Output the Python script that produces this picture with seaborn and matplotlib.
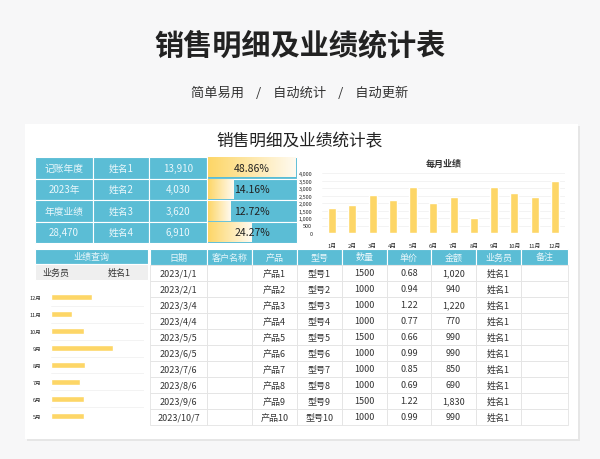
import numpy as np
import pandas as pd
import matplotlib
matplotlib.use("Agg")
import matplotlib.pyplot as plt
import matplotlib.patches as mp
from matplotlib.colors import LinearSegmentedColormap
import seaborn as sns

months = ["1月", "2月", "3月", "4月", "5月", "6月", "7月", "8月", "9月", "10月", "11月", "12月"]
monthly_sales = [1700, 1850, 2550, 2200, 3100, 2000, 2400, 1000, 3100, 2680, 2400, 3480]

left_months = ["12月", "11月", "10月", "9月", "8月", "7月", "6月", "5月"]
left_sales = [1220, 630, 990, 1830, 1020, 855, 990, 990]

summary_left = ["记账年度", "2023年", "年度业绩", "28,470"]
names = ["姓名1", "姓名2", "姓名3", "姓名4"]
name_totals = ["13,910", "4,030", "3,620", "6,910"]
shares = [48.86, 14.16, 12.72, 24.27]

headers = ["日期", "客户名称", "产品", "型号", "数量", "单价", "金额", "业务员", "备注"]
dates = ["2023/1/1", "2023/2/1", "2023/3/4", "2023/4/4", "2023/5/5", "2023/6/5",
         "2023/7/6", "2023/8/6", "2023/9/6", "2023/10/7"]
qty = [1500, 1000, 1000, 1000, 1500, 1000, 1000, 1000, 1500, 1000]
price = ["0.68", "0.94", "1.22", "0.77", "0.66", "0.99", "0.85", "0.69", "1.22", "0.99"]
amount = ["1,020", "940", "1,220", "770", "990", "990", "850", "690", "1,830", "990"]

sns.set_theme(style="white")
plt.rcParams["font.family"] = ["Noto Sans CJK SC", "DejaVu Sans"]

TEAL = "#5bbdd5"
YEL = "#fdd667"
fig = plt.figure(figsize=(6, 4.6), dpi=100)
fig.patch.set_facecolor("#f7f7f8")
bg = fig.add_axes([0, 0, 1, 1], zorder=-1)
bg.axis("off")

bg.text(300, 45, "销售明细及业绩统计表", ha="center", va="center", fontsize=21, fontweight="bold", color="#222")
bg.text(300, 93, "简单易用    /    自动统计    /    自动更新", ha="center", va="center", fontsize=9.5, color="#333")

# card
bg.add_patch(mp.Rectangle((27, 127), 553, 315, fc="#e6e6e6", ec="none"))
bg.add_patch(mp.Rectangle((25, 125), 553, 315, fc="white", ec="none"))
bg.text(300, 142, "销售明细及业绩统计表", ha="center", va="center", fontsize=12, color="#222")


def cell(x0, y0, w, h, txt, fc, tc, fs=7):
    bg.add_patch(mp.Rectangle((x0, y0), w, h, fc=fc, ec="white", lw=0.8))
    if txt:
        bg.text(x0 + w / 2, y0 + h / 2, txt, ha="center", va="center", fontsize=fs, color=tc)


# summary table
cols = [35, 93, 149, 207, 297]
grad = np.linspace(0, 1, 100).reshape(1, -1)
gcm = LinearSegmentedColormap.from_list("g", [YEL, "#fffaf0"])
for i in range(4):
    y0 = 158 + i * 21.5
    for j, t in enumerate([summary_left[i], names[i], name_totals[i]]):
        cell(cols[j], y0, cols[j + 1] - cols[j], 21.5, t, TEAL, "#eaf7fb")
    cell(cols[3], y0, cols[4] - cols[3], 21.5, "", TEAL, "white")
    w = (cols[4] - cols[3] - 2) * shares[i] / max(shares)
    bg.imshow(grad, cmap=gcm, aspect="auto", extent=(cols[3] + 1, cols[3] + 1 + w, y0 + 20.5, y0 + 1), zorder=2)
    bg.text((cols[3] + cols[4]) / 2, y0 + 10.75, f"{shares[i]:.2f}%", ha="center", va="center",
            fontsize=7.5, color="#222", zorder=3)
bg.set_xlim(0, 600)
bg.set_ylim(460, 0)

# monthly chart
ax1 = fig.add_axes([322 / 600, 1 - 234 / 460, 243 / 600, 60 / 460])
ax1.patch.set_alpha(0)
df1 = pd.DataFrame({"month": months, "sales": monthly_sales})
sns.barplot(data=df1, x="month", y="sales", color=YEL, width=0.4, ax=ax1, saturation=1)
ax1.set_ylim(0, 4000)
ax1.set_yticks(range(0, 4001, 500))
ax1.set_yticklabels([f"{v:,}" for v in range(0, 4001, 500)], fontsize=4)
ax1.tick_params(axis="x", labelsize=4.2, pad=1.5)
ax1.tick_params(axis="y", pad=1)
ax1.set_xlabel("")
ax1.set_ylabel("")
ax1.grid(axis="y", color="#eeeeee", lw=0.5)
ax1.set_axisbelow(True)
sns.despine(ax=ax1, left=True, bottom=True)
ax1.set_title("每月业绩", fontsize=6.5, fontweight="bold", pad=5, color="#333")

# left panel
cell(35, 250, 113, 15, "业绩查询", TEAL, "#eaf7fb", 6.5)
cell(35, 265, 113, 16, "", "#efefef", "#333")
bg.text(56, 273, "业务员", ha="center", va="center", fontsize=6.5, color="#333")
bg.text(119, 273, "姓名1", ha="center", va="center", fontsize=6.5, color="#333")
ax2 = fig.add_axes([51 / 600, 1 - 425 / 460, 93 / 600, 135 / 460])
ax2.patch.set_alpha(0)
df2 = pd.DataFrame({"month": left_months, "sales": left_sales})
sns.barplot(data=df2, y="month", x="sales", color=YEL, width=0.35, ax=ax2, saturation=1)
ax2.set_xlim(0, 2750)
ax2.set_xticks([])
ax2.tick_params(axis="y", labelsize=4, pad=1)
ax2.set_xlabel("")
ax2.set_ylabel("")
for k in range(len(left_months)):
    ax2.axhline(k + 0.5, color="#eeeeee", lw=0.5)
sns.despine(ax=ax2, left=True, bottom=True)

# main table
mcols = [150, 207, 252, 297, 342, 387, 431, 476, 521, 568]
for j, h in enumerate(headers):
    cell(mcols[j], 250, mcols[j + 1] - mcols[j], 16, h, TEAL, "#eaf7fb", 6.5)
for i in range(len(dates)):
    y0 = 266 + i * 16
    row = [dates[i], "", f"产品{i + 1}", f"型号{i + 1}", str(qty[i]), price[i], amount[i], "姓名1", ""]
    for j, t in enumerate(row):
        bg.add_patch(mp.Rectangle((mcols[j], y0), mcols[j + 1] - mcols[j], 16, fc="white", ec="#e3e3e3", lw=0.6))
        if t:
            bg.text((mcols[j] + mcols[j + 1]) / 2, y0 + 8, t, ha="center", va="center", fontsize=6.5, color="#333")

fig.savefig("out.png", dpi=100, facecolor=fig.get_facecolor())
